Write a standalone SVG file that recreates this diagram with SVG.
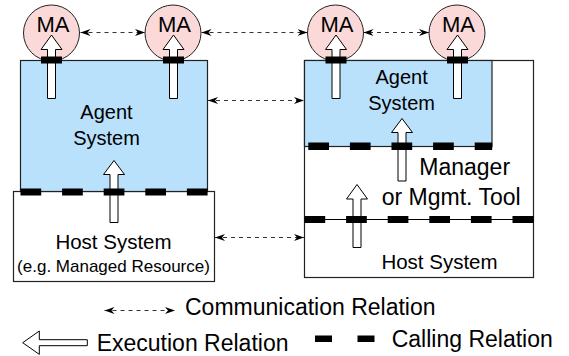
<svg xmlns="http://www.w3.org/2000/svg" width="569" height="356" viewBox="0 0 569 356">
<style>
text{font-family:"Liberation Sans",Arial,sans-serif;fill:#000;text-anchor:middle}
.ma{fill:#fcd9d9;stroke:#222;stroke-width:1}
.agent{fill:#b9e1fc;stroke:#222;stroke-width:1.2}
.host{fill:#fff;stroke:#222;stroke-width:1.2}
.bar{fill:#000}
.exec{fill:#fff;stroke:#000;stroke-width:1}
.comm{fill:none;stroke:#333;stroke-width:1;stroke-dasharray:4 4}
</style>
<defs>
<marker id="ah" markerUnits="userSpaceOnUse" markerWidth="12" markerHeight="8" refX="10" refY="3.5" orient="auto-start-reverse">
<path d="M0,0 L10,3.5 L0,7 L3,3.5 z" fill="#000"/>
</marker>
</defs>

<g id="ma1"><circle class="ma" cx="51.5" cy="33" r="28"/><text x="53" y="32" font-size="22">MA</text></g>
<g id="ma2"><circle class="ma" cx="173" cy="33" r="28"/><text x="174.5" y="32" font-size="22">MA</text></g>
<g id="ma3"><circle class="ma" cx="335.5" cy="33" r="28"/><text x="337" y="32" font-size="22">MA</text></g>
<g id="ma4"><circle class="ma" cx="457" cy="33" r="28"/><text x="458.5" y="32" font-size="22">MA</text></g>

<g id="host-left">
<rect class="host" x="13.5" y="191.5" width="201" height="90"/>
<text x="113.5" y="249" font-size="20.5">Host System</text>
<text x="113.5" y="271.5" font-size="17">(e.g. Managed Resource)</text>
</g>
<g id="agent-left">
<rect class="agent" x="20.5" y="60.5" width="187" height="131"/>
<text x="106.5" y="119" font-size="20">Agent</text>
<text x="106.5" y="144.5" font-size="20">System</text>
</g>

<g id="host-right">
<rect class="host" x="304.5" y="60.5" width="229" height="217"/>
<line x1="304.5" y1="219.5" x2="533.5" y2="219.5" stroke="#000" stroke-width="1"/>
<text x="439.5" y="268.5" font-size="20.5">Host System</text>
</g>
<g id="agent-right">
<rect class="agent" x="304.5" y="60.5" width="187.5" height="86"/>
<text x="401.6" y="83.5" font-size="20">Agent</text>
<text x="401.6" y="109.5" font-size="20">System</text>
</g>
<g id="manager">
<text x="464.7" y="175" font-size="23">Manager</text>
<text x="451.2" y="205" font-size="23">or Mgmt. Tool</text>
</g>

<g id="execution">
<polygon class="exec" points="51.5,35 62,49.5 55.5,49.5 55.5,98.5 47.5,98.5 47.5,49.5 41,49.5"/>
<polygon class="exec" points="173.5,35 184,49.5 177.5,49.5 177.5,98.5 169.5,98.5 169.5,49.5 163,49.5"/>
<polygon class="exec" points="114,160.5 124.5,174.5 118,174.5 118,222.5 110,222.5 110,174.5 103.5,174.5"/>
<polygon class="exec" points="336,35 346.5,49.5 340,49.5 340,98.5 332,98.5 332,49.5 325.5,49.5"/>
<polygon class="exec" points="457.5,35 468,49.5 461.5,49.5 461.5,98.5 453.5,98.5 453.5,49.5 447,49.5"/>
<polygon class="exec" points="402,118.5 412.5,132.5 406,132.5 406,181 398,181 398,132.5 391.5,132.5"/>
<polygon class="exec" points="357,184.5 367.5,199 361,199 361,247.5 353,247.5 353,199 346.5,199"/>
</g>

<g id="calling">
<rect class="bar" x="41" y="56.5" width="21" height="7"/>
<rect class="bar" x="163" y="56.5" width="21" height="7"/>
<rect class="bar" x="325.5" y="56.5" width="21" height="7"/>
<rect class="bar" x="447" y="56.5" width="21" height="7"/>
<rect class="bar" x="20.5" y="188.5" width="20.7" height="7"/>
<rect class="bar" x="62.1" y="188.5" width="20.7" height="7"/>
<rect class="bar" x="103.7" y="188.5" width="20.7" height="7"/>
<rect class="bar" x="145.3" y="188.5" width="20.7" height="7"/>
<rect class="bar" x="186.9" y="188.5" width="20.7" height="7"/>
<rect class="bar" x="308.3" y="142.5" width="20.7" height="7.5"/>
<rect class="bar" x="349.9" y="142.5" width="20.7" height="7.5"/>
<rect class="bar" x="391.5" y="142.5" width="20.7" height="7.5"/>
<rect class="bar" x="433.1" y="142.5" width="20.7" height="7.5"/>
<rect class="bar" x="474.7" y="142.5" width="17.5" height="7.5"/>
<rect class="bar" x="304.5" y="216" width="20.7" height="7"/>
<rect class="bar" x="346.1" y="216" width="20.7" height="7"/>
<rect class="bar" x="387.7" y="216" width="20.7" height="7"/>
<rect class="bar" x="429.3" y="216" width="20.7" height="7"/>
<rect class="bar" x="470.9" y="216" width="20.7" height="7"/>
<rect class="bar" x="512.5" y="216" width="21" height="7"/>
</g>

<g id="connectors">
<line class="comm" x1="80.5" y1="32.5" x2="145" y2="32.5" marker-start="url(#ah)" marker-end="url(#ah)"/>
<line class="comm" x1="201.5" y1="32.5" x2="307.5" y2="32.5" marker-start="url(#ah)" marker-end="url(#ah)"/>
<line class="comm" x1="429" y1="32.5" x2="363.5" y2="32.5" marker-start="url(#ah)" marker-end="url(#ah)"/>
<line class="comm" x1="208" y1="100.5" x2="304" y2="100.5" marker-start="url(#ah)" marker-end="url(#ah)"/>
<line class="comm" x1="215" y1="237.5" x2="304" y2="237.5" marker-start="url(#ah)" marker-end="url(#ah)"/>
</g>

<g id="legend">
<line class="comm" x1="104.5" y1="310.5" x2="175" y2="310.5" marker-start="url(#ah)" marker-end="url(#ah)"/>
<text x="185" y="314.5" font-size="23" style="text-anchor:start">Communication Relation</text>
<polygon class="exec" points="22.7,342.7 39.3,331 39.3,339.7 87.3,339.7 87.3,345.7 39.3,345.7 39.3,354.4"/>
<text x="96.7" y="350.5" font-size="23" style="text-anchor:start">Execution Relation</text>
<rect class="bar" x="315" y="335.5" width="17" height="6.5"/>
<rect class="bar" x="357.5" y="335.5" width="17" height="6.5"/>
<text x="391.7" y="346.5" font-size="23" style="text-anchor:start">Calling Relation</text>
</g>
</svg>
